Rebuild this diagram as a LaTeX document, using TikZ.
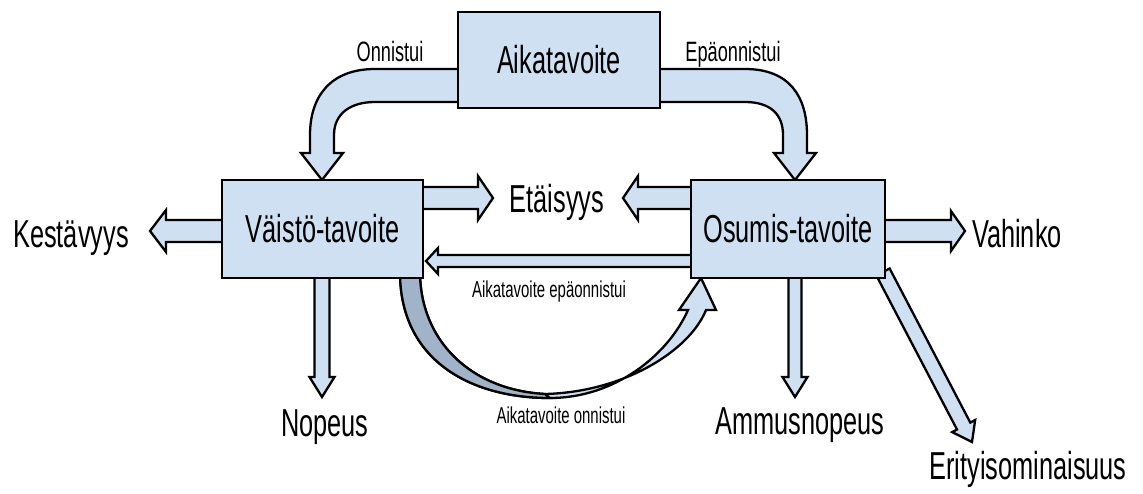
\documentclass[tikz,border=0pt]{standalone}
\usepackage{fontspec}
\setmainfont[FakeStretch=0.65]{Liberation Sans}
\usetikzlibrary{calc}
\definecolor{boxfill}{RGB}{207,224,242}
\definecolor{darkfill}{RGB}{160,179,200}
\tikzset{
  goal/.style={draw=black, line width=2.5pt, fill=boxfill, inner sep=0pt, font=\fontsize{39}{40}\selectfont},
  barrow/.style={draw=black, line width=2.3pt, fill=boxfill, line join=miter},
  bigtxt/.style={inner sep=0pt, anchor=base, font=\fontsize{39}{40}\selectfont},
  midtxt/.style={inner sep=0pt, anchor=base, font=\fontsize{28}{30}\selectfont},
  smalltxt/.style={inner sep=0pt, anchor=base, font=\fontsize{23}{25}\selectfont},
}
% #2 start, #3 tip, #4 shaft half width, #5 head half width, #6 head length
\newcommand\blockarr[6][]{%
  \coordinate (bahead) at ($(#3)!#6!(#2)$);
  \draw[barrow,#1] ($(#2)!#4!90:(#3)$) -- ($(bahead)!#4!90:(#3)$) -- ($(bahead)!#5!90:(#3)$) -- (#3)
     -- ($(bahead)!#5!-90:(#3)$) -- ($(bahead)!#4!-90:(#3)$) -- ($(#2)!#4!-90:(#3)$) -- cycle;}
\begin{document}
\begin{tikzpicture}[x=1pt,y=-1pt]
\useasboundingbox (0,0) rectangle (1143,493);
\fill[white] (0,0) rectangle (1143,493);

% text nodes
\node[bigtxt] (kest) at (71,247) {Kestävyys};
\node[bigtxt] (eta) at (557,212) {Etäisyys};
\node[bigtxt] (vah) at (1017,247) {Vahinko};
\node[bigtxt] (nop) at (325,436) {Nopeus};
\node[bigtxt] (amm) at (800,434) {Ammusnopeus};
\node[bigtxt] (erit) at (1028,479) {Erityisominaisuus};
\node[midtxt] (onn) at (390,61) {Onnistui};
\node[midtxt] (epa) at (733,61) {Epäonnistui};
\node[smalltxt] (lab1) at (549,297) {Aikatavoite epäonnistui};
\node[smalltxt] (lab2) at (561,423) {Aikatavoite onnistui};

% arrow end points
\coordinate (kestS) at (232,231);  \coordinate (kestT) at (150,231);
\coordinate (eta1S) at (413,198);  \coordinate (eta1T) at (493,198);
\coordinate (eta2S) at (700,198);  \coordinate (eta2T) at (623,198);
\coordinate (vahS) at (877,231);   \coordinate (vahT) at (965,231);
\coordinate (backS) at (700,261);  \coordinate (backT) at (426,261);
\coordinate (nopS) at (322,270);   \coordinate (nopT) at (322,397);
\coordinate (ammS) at (795,270);   \coordinate (ammT) at (795,397);
\coordinate (eritS) at (883,272);  \coordinate (eritT) at (972,442);
\coordinate (vaisTop) at (322,180);
\coordinate (osumTop) at (795,180);
\coordinate (osumBL) at (701,278);

% curved arrows from Aikatavoite
\draw[barrow] (470,69) -- (375,69) .. controls (330,69) and (310,97) .. (310,135) -- (310,153) -- (301,153)
   -- (vaisTop) -- (343,153) -- (334,153) -- (334,135) .. controls (334,114) and (350,102) .. (375,102) -- (470,102) -- cycle;
\draw[barrow] (650,69) -- (745,69) .. controls (790,69) and (807,97) .. (807,135) -- (807,153) -- (816,153)
   -- (osumTop) -- (774,153) -- (783,153) -- (783,135) .. controls (783,114) and (770,102) .. (745,102) -- (650,102) -- cycle;

% curved arrow Aikatavoite onnistui
\draw[barrow] (400,272) .. controls (400,360) and (470,398) .. (550,398)
   .. controls (615,398) and (668,355) .. (688,310) -- (679,310) -- (osumBL) -- (716,310) -- (706,310)
   .. controls (690,350) and (625,392) .. (545,394) .. controls (470,390) and (420,340) .. (420,272) -- cycle;
\draw[barrow,fill=darkfill] (400,272) .. controls (400,360) and (470,398) .. (550,398) -- (545,394)
   .. controls (470,390) and (420,340) .. (420,272) -- cycle;

% straight block arrows
\blockarr{kestS}{kestT}{11pt}{21pt}{16pt}
\blockarr{eta1S}{eta1T}{11pt}{22pt}{15pt}
\blockarr{eta2S}{eta2T}{11pt}{22pt}{15pt}
\blockarr{vahS}{vahT}{11pt}{20pt}{14pt}
\blockarr{backS}{backT}{6pt}{13pt}{12pt}
\blockarr{nopS}{nopT}{7.5pt}{12.5pt}{20pt}
\blockarr{ammS}{ammT}{6.5pt}{12.5pt}{20pt}
\blockarr{eritS}{eritT}{7.5pt}{13pt}{18pt}

% boxes
\node[goal, minimum width=202pt, minimum height=96pt] (aika) at (559,60) {Aikatavoite};
\node[goal, minimum width=201pt, minimum height=98pt] (vais) at (322.5,229) {Väistö-tavoite};
\node[goal, minimum width=194pt, minimum height=98pt] (osum) at (788,229) {Osumis-tavoite};
\end{tikzpicture}
\end{document}
